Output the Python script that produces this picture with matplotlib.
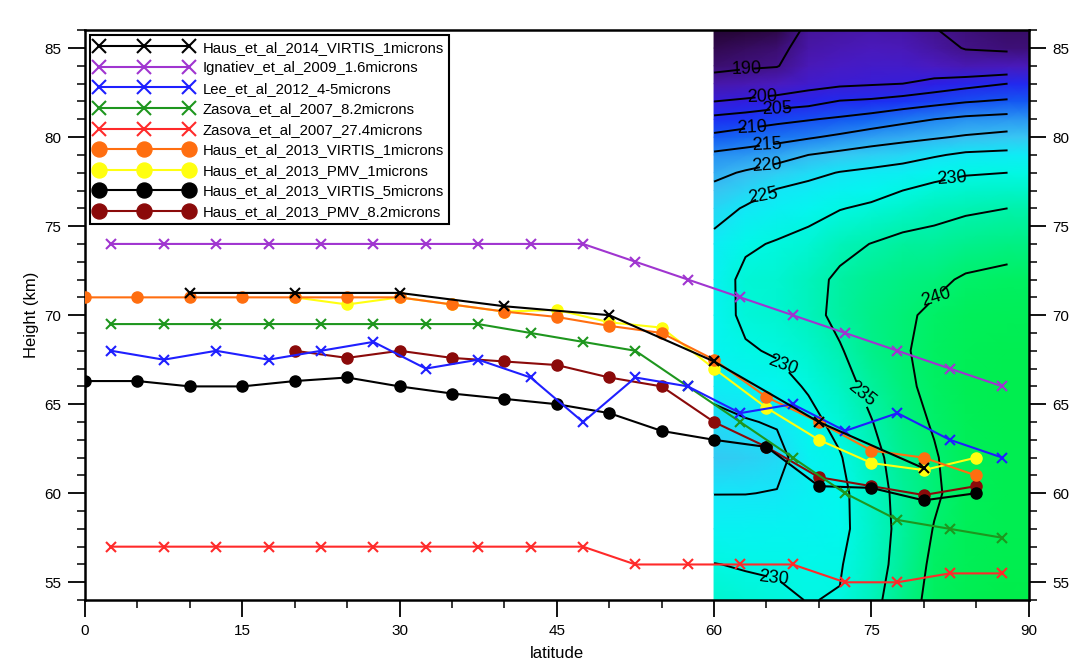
import numpy as np
import matplotlib
matplotlib.use("Agg")
import matplotlib.pyplot as plt
from matplotlib.colors import LinearSegmentedColormap, Normalize

plt.rcParams['font.family'] = ['Liberation Sans', 'DejaVu Sans']

# ---------------- data series ----------------
lat_x5 = [2.5, 7.5, 12.5, 17.5, 22.5, 27.5, 32.5, 37.5, 42.5, 47.5,
          52.5, 57.5, 62.5, 67.5, 72.5, 77.5, 82.5, 87.5]

haus14_lat = [10, 20, 30, 40, 50, 60, 70, 80]
haus14_z = [71.25, 71.25, 71.25, 70.5, 70.0, 67.4, 64.0, 61.4]

ignatiev_z = [74, 74, 74, 74, 74, 74, 74, 74, 74, 74,
              73, 72, 71, 70, 69, 68, 67, 66]

lee_z = [68, 67.5, 68, 67.5, 68, 68.5, 67, 67.5, 66.5, 64,
         66.5, 66, 64.5, 65, 63.5, 64.5, 63, 62]

zasova82_z = [69.5, 69.5, 69.5, 69.5, 69.5, 69.5, 69.5, 69.5, 69, 68.5,
              68, 66, 64, 62, 60, 58.5, 58, 57.5]

zasova274_z = [57, 57, 57, 57, 57, 57, 57, 57, 57, 57,
               56, 56, 56, 56, 55, 55, 55.5, 55.5]

lat_c5 = [0, 5, 10, 15, 20, 25, 30, 35, 40, 45, 50, 55, 60, 65, 70, 75, 80, 85]
haus13_virtis1_z = [71, 71, 71, 71, 71, 71, 71, 70.6, 70.2, 69.9,
                    69.4, 69.0, 67.5, 65.4, 64.0, 62.4, 62.0, 61.0]
haus13_virtis5_z = [66.3, 66.3, 66.0, 66.0, 66.3, 66.5, 66.0, 65.6, 65.3, 65.0,
                    64.5, 63.5, 63.0, 62.6, 60.4, 60.3, 59.6, 60.0]

lat_pmv = [20, 25, 30, 35, 40, 45, 50, 55, 60, 65, 70, 75, 80, 85]
haus13_pmv1_z = [71, 70.6, 71, 70.6, 70.2, 70.3, 69.6, 69.3, 67.0, 64.8, 63.0, 61.7, 61.3, 62.0]
haus13_pmv82_z = [68, 67.6, 68, 67.6, 67.4, 67.2, 66.5, 66.0, 64.0, 62.6, 60.9, 60.4, 59.9, 60.4]

labels = ["Haus_et_al_2014_VIRTIS_1microns",
          "Ignatiev_et_al_2009_1.6microns",
          "Lee_et_al_2012_4-5microns",
          "Zasova_et_al_2007_8.2microns",
          "Zasova_et_al_2007_27.4microns",
          "Haus_et_al_2013_VIRTIS_1microns",
          "Haus_et_al_2013_PMV_1microns",
          "Haus_et_al_2013_VIRTIS_5microns",
          "Haus_et_al_2013_PMV_8.2microns"]

# ---------------- temperature field (K) ----------------
t_lat = [60, 63, 66, 69, 72, 75, 78, 81, 84, 88]
t_z = [54, 56, 58, 60, 62, 64, 66, 68, 70, 72, 74, 76, 77, 78, 79, 80, 81, 82, 83, 84, 85, 86]
t_vals = [
    [232.0, 231.3, 230.6, 229.9, 230.2, 233.5, 237.8, 241.5, 243.0, 244.0],
    [230.1, 229.7, 229.6, 229.3, 229.7, 232.7, 236.9, 241.0, 242.5, 243.6],
    [227.5, 227.8, 228.0, 227.8, 228.8, 232.5, 236.4, 240.2, 242.2, 243.3],
    [224.9, 224.9, 225.2, 227.2, 228.8, 232.8, 236.6, 239.3, 242.0, 243.2],
    [222.0, 222.5, 223.5, 227.6, 229.7, 233.4, 237.3, 239.6, 242.3, 243.4],
    [223.8, 224.7, 225.4, 228.8, 231.2, 234.8, 238.3, 240.4, 242.6, 243.6],
    [226.2, 227.3, 228.6, 230.4, 233.0, 236.4, 239.2, 241.0, 242.8, 243.6],
    [228.0, 229.6, 230.4, 232.0, 234.6, 237.8, 239.6, 241.2, 242.6, 243.3],
    [228.2, 230.8, 231.7, 233.5, 236.2, 238.2, 239.3, 240.8, 242.0, 242.6],
    [227.5, 231.2, 231.8, 233.5, 235.8, 237.3, 238.3, 239.1, 240.5, 241.2],
    [226.3, 229.3, 230.4, 231.5, 233.7, 235.1, 236.3, 236.6, 237.6, 238.4],
    [223.2, 225.4, 227.1, 228.4, 229.8, 230.8, 232.3, 233.5, 234.3, 235.0],
    [221.2, 223.0, 225.3, 226.4, 227.5, 228.5, 230.0, 231.3, 232.0, 232.5],
    [218.8, 220.5, 222.1, 223.8, 225.2, 226.0, 226.9, 228.5, 229.6, 230.0],
    [215.9, 216.8, 218.0, 220.0, 221.25, 222.3, 223.2, 224.5, 225.8, 226.2],
    [211.1, 212.4, 213.3, 214.5, 215.9, 217.5, 218.6, 219.5, 220.5, 221.5],
    [206.4, 207.4, 208.75, 209.7, 210.75, 212.1, 213.7, 215.0, 216.1, 216.8],
    [200.0, 201.1, 202.3, 203.3, 205.3, 205.9, 207.2, 208.5, 209.7, 210.7],
    [193.3, 194.5, 195.8, 198.0, 199.0, 199.5, 200.0, 201.7, 203.3, 205.0],
    [188.0, 189.0, 189.6, 195.0, 196.5, 197.5, 197.5, 196.0, 194.5, 195.3],
    [186.0, 187.0, 188.0, 193.0, 194.5, 195.5, 195.0, 192.5, 189.6, 188.7],
    [183.0, 184.0, 185.5, 191.5, 192.5, 193.5, 193.0, 190.2, 188.8, 187.5],
]
contour_levels = [190, 200, 205, 210, 215, 220, 225, 230, 235, 240]

# ---------------- figure ----------------
fig = plt.figure(figsize=(10.77, 6.72), dpi=100)
ax = fig.add_axes([0.079, 0.107, 0.876, 0.848])

T = np.array(t_vals)
lat_arr = np.array(t_lat, dtype=float)
z_arr = np.array(t_z, dtype=float)

# colour field (extended to the pole for the fill)
lat_fill = np.append(lat_arr, 90.0)
T_fill = np.hstack([T, T[:, -1:]])
stops = [(180, '#180320'), (185, '#2c0740'), (190, '#44138e'), (196, '#4a1ac0'),
         (202, '#2c1ee6'), (207, '#1a30f4'), (212, '#1264f2'), (217, '#2c9af2'),
         (221, '#3cc2f2'), (225, '#14e6f8'), (229, '#02f8ee'), (233, '#00f4c4'),
         (237, '#00f096'), (241, '#00f064'), (246, '#00ec3c')]
tmin, tmax = stops[0][0], stops[-1][0]
cmap = LinearSegmentedColormap.from_list(
    'venus', [((t - tmin) / (tmax - tmin), c) for t, c in stops])
ax.pcolormesh(lat_fill, z_arr, T_fill, cmap=cmap, norm=Normalize(tmin, tmax),
              shading='gouraud', zorder=0)

cs = ax.contour(lat_arr, z_arr, T, levels=contour_levels, colors='black',
                linewidths=1.4, zorder=1)
label_pos = [(63.1, 83.9), (64.6, 82.3), (66.0, 81.6), (63.6, 80.6), (65.0, 79.6),
             (65.0, 78.6), (64.6, 77.0), (82.7, 77.8), (81.0, 71.8), (66.5, 67.0),
             (74.1, 65.6), (65.7, 55.2)]
ax.clabel(cs, fmt='%d', fontsize=13, inline=True, inline_spacing=5, manual=label_pos)

# ---------------- series ----------------
lw = 1.5
msx = 7.5
mso = 8
h_darkred, = ax.plot(lat_pmv, haus13_pmv82_z, '-o', color='#8b0a0a', lw=lw, ms=mso, zorder=3)
h_black_o, = ax.plot(lat_c5, haus13_virtis5_z, '-o', color='black', lw=lw, ms=mso, zorder=3)
h_yellow, = ax.plot(lat_pmv, haus13_pmv1_z, '-o', color='#ffff10', lw=lw, ms=mso, zorder=3)
h_orange, = ax.plot(lat_c5, haus13_virtis1_z, '-o', color='#ff6e10', lw=lw, ms=mso, zorder=3)
h_red, = ax.plot(lat_x5, zasova274_z, '-x', color='#ff2a2a', lw=lw, ms=msx, mew=1.5, zorder=4)
h_green, = ax.plot(lat_x5, zasova82_z, '-x', color='#1e961e', lw=lw, ms=msx, mew=1.5, zorder=4)
h_blue, = ax.plot(lat_x5, lee_z, '-x', color='#1f1fff', lw=lw, ms=msx, mew=1.5, zorder=4)
h_purple, = ax.plot(lat_x5, ignatiev_z, '-x', color='#a035d0', lw=lw, ms=msx, mew=1.5, zorder=4)
h_blackx, = ax.plot(haus14_lat, haus14_z, '-x', color='black', lw=lw, ms=msx, mew=1.5, zorder=5)

handles = [h_blackx, h_purple, h_blue, h_green, h_red, h_orange, h_yellow, h_black_o, h_darkred]
leg = ax.legend(handles, labels, loc='upper left', bbox_to_anchor=(0.005, 0.991),
                numpoints=3, handlelength=6.6, handletextpad=0.65, labelspacing=0.44,
                fontsize=10.7, frameon=True, fancybox=False, borderpad=0.35,
                markerscale=1.35, borderaxespad=0.0)
leg.get_frame().set_edgecolor('black')
leg.get_frame().set_linewidth(1.5)
leg.get_frame().set_alpha(1)
leg.set_zorder(10)

# ---------------- axes ----------------
ax.set_xlim(0, 90)
ax.set_ylim(54, 86)
ax.set_xticks(np.arange(0, 91, 15))
ax.set_xticks(np.arange(0, 91, 5), minor=True)
ax.set_yticks(np.arange(55, 86, 5))
ax.set_yticks(np.arange(54, 87, 1), minor=True)
ax.tick_params(axis='both', which='major', direction='out', length=12, width=1.3,
               labelsize=11, pad=5)
ax.tick_params(axis='both', which='minor', direction='out', length=5.5, width=1.1)
ax.tick_params(axis='y', which='both', right=True, labelright=True)
ax.tick_params(axis='x', which='both', top=False)
for s in ax.spines.values():
    s.set_linewidth(1.8)
ax.set_xlabel('latitude', fontsize=12, labelpad=6)
ax.set_ylabel('Height (km)', fontsize=12, labelpad=4)

fig.savefig('out.png', dpi=100)
